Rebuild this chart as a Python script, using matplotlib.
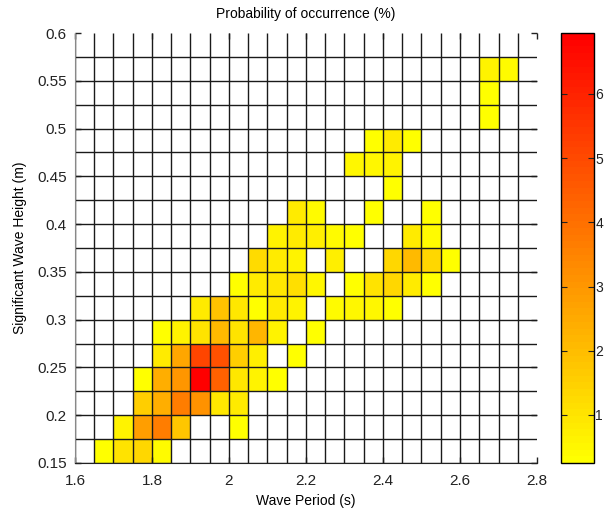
import matplotlib
matplotlib.use('Agg')
from matplotlib import pyplot as plt
from matplotlib.ticker import FormatStrFormatter
import numpy as np

plt.rcParams['font.family'] = ['Liberation Sans', 'DejaVu Sans']

# bin edges of the scatter diagram
period_edges = [1.6, 1.65, 1.7, 1.75, 1.8, 1.85, 1.9, 1.95, 2.0, 2.05, 2.1, 2.15, 2.2,
                2.25, 2.3, 2.35, 2.4, 2.45, 2.5, 2.55, 2.6, 2.65, 2.7, 2.75, 2.8]
height_edges = [0.15, 0.175, 0.2, 0.225, 0.25, 0.275, 0.3, 0.325, 0.35, 0.375, 0.4,
                0.425, 0.45, 0.475, 0.5, 0.525, 0.55, 0.575, 0.6]

# probability of occurrence (%), one row per height bin (bottom to top)
h00 = [0, .25, 1.0, 1.4, .4, 0, 0, 0, 0, 0, 0, 0, 0, 0, 0, 0, 0, 0, 0, 0, 0, 0, 0, 0]
h01 = [0, 0, .6, 2.8, 3.6, 1.8, 0, 0, .25, 0, 0, 0, 0, 0, 0, 0, 0, 0, 0, 0, 0, 0, 0, 0]
h02 = [0, 0, 0, 1.55, 2.4, 3.6, 3.1, .97, .85, 0, 0, 0, 0, 0, 0, 0, 0, 0, 0, 0, 0, 0, 0, 0]
h03 = [0, 0, 0, .25, 2.4, 3.0, 6.95, 4.35, .97, .6, .25, 0, 0, 0, 0, 0, 0, 0, 0, 0, 0, 0, 0, 0]
h04 = [0, 0, 0, 0, .83, 2.6, 5.1, 4.8, 1.55, .75, 0, .25, 0, 0, 0, 0, 0, 0, 0, 0, 0, 0, 0, 0]
h05 = [0, 0, 0, 0, .25, .6, 1.05, 2.1, 1.05, 2.2, .6, 0, .25, 0, 0, 0, 0, 0, 0, 0, 0, 0, 0, 0]
h06 = [0, 0, 0, 0, 0, 0, .85, 1.9, .9, .25, .8, .6, 0, .4, .5, .5, .25, 0, 0, 0, 0, 0, 0, 0]
h07 = [0, 0, 0, 0, 0, 0, 0, 0, .25, .85, .95, 1.1, .5, 0, .25, 1.05, 1.3, .85, .25, 0, 0, 0, 0, 0]
h08 = [0, 0, 0, 0, 0, 0, 0, 0, 0, 1.2, .8, .6, 0, .7, 0, 0, 1.4, 2.1, 1.3, .25, 0, 0, 0, 0]
h09 = [0, 0, 0, 0, 0, 0, 0, 0, 0, 0, .6, .8, .7, .45, .25, 0, 0, .85, .45, 0, 0, 0, 0, 0]
h10 = [0, 0, 0, 0, 0, 0, 0, 0, 0, 0, 0, .85, .4, 0, 0, .35, 0, 0, .25, 0, 0, 0, 0, 0]
h11 = [0, 0, 0, 0, 0, 0, 0, 0, 0, 0, 0, 0, 0, 0, 0, 0, .25, 0, 0, 0, 0, 0, 0, 0]
h12 = [0, 0, 0, 0, 0, 0, 0, 0, 0, 0, 0, 0, 0, 0, .55, .55, .6, 0, 0, 0, 0, 0, 0, 0]
h13 = [0, 0, 0, 0, 0, 0, 0, 0, 0, 0, 0, 0, 0, 0, 0, .25, .8, .25, 0, 0, 0, 0, 0, 0]
h14 = [0, 0, 0, 0, 0, 0, 0, 0, 0, 0, 0, 0, 0, 0, 0, 0, 0, 0, 0, 0, 0, .25, 0, 0]
h15 = [0, 0, 0, 0, 0, 0, 0, 0, 0, 0, 0, 0, 0, 0, 0, 0, 0, 0, 0, 0, 0, .25, 0, 0]
h16 = [0, 0, 0, 0, 0, 0, 0, 0, 0, 0, 0, 0, 0, 0, 0, 0, 0, 0, 0, 0, 0, .6, .45, 0]
h17 = [0] * 24

prob = np.array([h00, h01, h02, h03, h04, h05, h06, h07, h08, h09,
                 h10, h11, h12, h13, h14, h15, h16, h17])
prob = np.ma.masked_equal(prob, 0)

cmap = matplotlib.colormaps['autumn_r'].resampled(64)
cmap.set_bad('white')

fig = plt.figure(figsize=(6.07, 5.15), dpi=100)
ax = fig.add_axes([75 / 607, 1 - 463 / 515, 462 / 607, 430 / 515])
cax = fig.add_axes([561 / 607, 1 - 463 / 515, 33 / 607, 430 / 515])

mesh = ax.pcolormesh(period_edges, height_edges, prob, cmap=cmap,
                     vmin=prob.min(), vmax=prob.max(), edgecolors='none')
# grid lines (MATLAB pcolor look, no top/right border)
ax.vlines(period_edges[:-1], height_edges[0], height_edges[-1], colors='#1a1a1a', lw=1.0)
ax.hlines(height_edges[:-1], period_edges[0], period_edges[-1], colors='#1a1a1a', lw=1.0)

ax.set_xlim(1.6, 2.8)
ax.set_ylim(0.15, 0.6)
ax.set_xticks([1.6, 1.8, 2.0, 2.2, 2.4, 2.6, 2.8])
ax.set_yticks([0.15, 0.2, 0.25, 0.3, 0.35, 0.4, 0.45, 0.5, 0.55, 0.6])
ax.xaxis.set_major_formatter(FormatStrFormatter('%g'))
ax.yaxis.set_major_formatter(FormatStrFormatter('%g'))
ax.tick_params(direction='in', length=4, width=1, top=True, right=True, labelsize=11,
               colors='#222222')
ax.tick_params(axis='x', pad=8)
ax.tick_params(axis='y', pad=6)
ax.spines['top'].set_visible(False)
ax.spines['right'].set_visible(False)
ax.spines['left'].set_color('#888888')
ax.spines['bottom'].set_color('#222222')

ax.set_title('Probability of occurrence (%)', fontsize=10, pad=11)
ax.set_xlabel('Wave Period (s)', fontsize=10, labelpad=4)
ax.set_ylabel('Significant Wave Height (m)', fontsize=10, labelpad=7)

cbar = fig.colorbar(mesh, cax=cax)
cbar.set_ticks([1, 2, 3, 4, 5, 6])
cbar.ax.tick_params(direction='in', length=4, left=True, right=True, labelsize=10,
                    pad=1, colors='#222222')
cbar.outline.set_linewidth(1.0)

plt.savefig('out.png', dpi=100)
